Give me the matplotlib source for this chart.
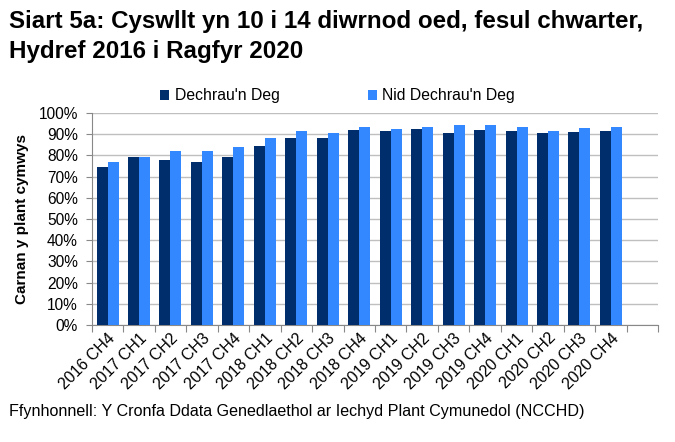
import numpy as np
import matplotlib
matplotlib.use("Agg")
import matplotlib.pyplot as plt

plt.rcParams['font.family'] = ['Liberation Sans', 'DejaVu Sans']

# Quarter labels and percentages
quarters = ["2016 CH4", "2017 CH1", "2017 CH2", "2017 CH3", "2017 CH4",
            "2018 CH1", "2018 CH2", "2018 CH3", "2018 CH4",
            "2019 CH1", "2019 CH2", "2019 CH3", "2019 CH4",
            "2020 CH1", "2020 CH2", "2020 CH3", "2020 CH4"]
dechrau_deg = [74.5, 79.2, 77.7, 77.0, 79.2, 84.5, 88.3, 88.3, 92.0,
               91.7, 92.7, 90.8, 92.0, 91.7, 90.5, 91.1, 91.4]
nid_dechrau_deg = [77.0, 79.2, 82.3, 82.3, 84.2, 88.3, 91.4, 90.8, 93.6,
                   92.3, 93.3, 94.5, 94.5, 93.6, 91.4, 93.0, 93.6]

dark = "#002D6B"
light = "#3388FF"

fig = plt.figure(figsize=(6.75, 4.42), dpi=100)
ax = fig.add_axes([0.136, 0.265, 0.839, 0.479])

x = np.arange(len(quarters))
w = 0.35
ax.bar(x - w / 2, dechrau_deg, w, color=dark, label="Dechrau'n Deg", zorder=3)
ax.bar(x + w / 2, nid_dechrau_deg, w, color=light, label="Nid Dechrau'n Deg", zorder=3)

# one empty slot at the right, as in the original
ax.set_xlim(-0.5, len(quarters) + 0.5)
ax.set_ylim(0, 100)
ax.set_yticks(range(0, 101, 10))
ax.set_yticklabels([f"{v}%" for v in range(0, 101, 10)], fontsize=11.2)
ax.yaxis.grid(True, color="#BFBFBF", linewidth=1, zorder=0)

ax.set_xticks(np.arange(-0.5, len(quarters) + 1, 1))
ax.set_xticklabels([])
ax.set_xticks(x, minor=True)
ax.set_xticklabels(quarters, minor=True, rotation=45, ha="right",
                   rotation_mode="anchor", fontsize=11.5)
ax.tick_params(axis="x", which="minor", length=0, pad=4)
ax.tick_params(axis="x", which="major", length=5, color="#888888", direction="out")
ax.tick_params(axis="y", length=4, color="#888888", direction="out", pad=6)

for s in ["top", "right"]:
    ax.spines[s].set_visible(False)
for s in ["left", "bottom"]:
    ax.spines[s].set_color("#888888")

ax.set_ylabel("Carnan y plant cymwys", fontsize=11, fontweight="bold", labelpad=7)

fig.text(0.013, 0.978, "Siart 5a: Cyswllt yn 10 i 14 diwrnod oed, fesul chwarter,\nHydref 2016 i Ragfyr 2020",
         fontsize=17.4, fontweight="bold", va="top", ha="left", linespacing=1.38)

leg = fig.legend(loc="center", bbox_to_anchor=(0.5, 0.783), ncol=2, frameon=False,
                 fontsize=11.3, handlelength=0.6, handleheight=0.6, handletextpad=0.35,
                 columnspacing=5.6)

fig.text(0.013, 0.068, "Ffynhonnell: Y Cronfa Ddata Genedlaethol ar Iechyd Plant Cymunedol (NCCHD)",
         fontsize=11.6, ha="left", va="center")

fig.savefig("out.png", dpi=100)
